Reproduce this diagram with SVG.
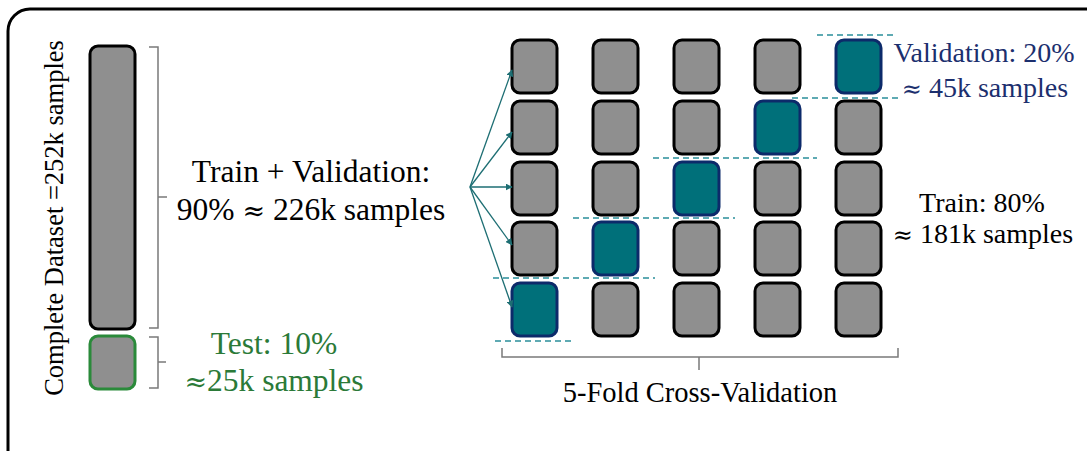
<svg xmlns="http://www.w3.org/2000/svg" width="1087" height="451" viewBox="0 0 1087 451">
  <style>
    .lbl { font-family: "Liberation Serif", "DejaVu Serif", serif; }
    .sym { font-family: "DejaVu Serif", "Liberation Serif", serif; }
    .blk { fill: #8f8f8f; stroke: #000; stroke-width: 3; }
    .val { fill: #00707a; stroke: #0c2a6a; stroke-width: 3; }
    .tst { fill: #8f8f8f; stroke: #2a8a3a; stroke-width: 3; }
    .brace { fill: none; stroke: #7a7a7a; stroke-width: 1.5; }
    .split { fill: none; stroke: #2a8f9a; stroke-width: 1.3; stroke-dasharray: 6 4; }
    .arrow { fill: none; stroke: #1d6e73; stroke-width: 1.3; marker-end: url(#head); }
  </style>
  <defs>
    <marker id="head" viewBox="0 0 10 10" refX="9" refY="5" markerWidth="7" markerHeight="7" orient="auto" markerUnits="userSpaceOnUse">
      <path d="M0,0 L10,5 L0,10 z" fill="#1d6e73"/>
    </marker>
  </defs>
  <rect width="1087" height="451" fill="#fff"/>
  <!-- outer frame -->
  <rect x="8" y="9" width="1110" height="470" rx="22" fill="none" stroke="#000" stroke-width="3"/>

  <!-- complete dataset -->
  <g id="dataset-label">
    <text class="lbl" transform="translate(63,218) rotate(-90)" text-anchor="middle" font-size="26.5" fill="#000">Complete Dataset =252k samples</text>
  </g>
  <g id="trainval-bar">
    <rect class="blk" x="90" y="46" width="45" height="283" rx="8"/>
  </g>
  <g id="test-bar">
    <rect class="tst" x="90" y="336" width="45" height="53" rx="8"/>
  </g>
  <g id="trainval-label">
    <text class="lbl" x="311" y="182" text-anchor="middle" font-size="31.5" fill="#000">Train + Validation:</text>
    <text class="lbl" x="311" y="220" text-anchor="middle" font-size="31.5" fill="#000">90% <tspan class="sym" font-size="27">≈</tspan> 226k samples</text>
  </g>
  <g id="test-label">
    <text class="lbl" x="274" y="354" text-anchor="middle" font-size="31.5" fill="#2b7a38">Test: 10%</text>
    <text class="lbl" x="274" y="391" text-anchor="middle" font-size="31.5" fill="#2b7a38"><tspan class="sym" font-size="27">≈</tspan>25k samples</text>
  </g>

  <!-- braces -->
  <g id="braces">
    <path class="brace" d="M149,47 H158 V328 H149 M158,197 H167"/>
    <path class="brace" d="M149,337 H158 V388 H149 M158,362 H166"/>
    <path class="brace" d="M502,348 V357 H898 V348 M699,357 V370"/>
  </g>

  <!-- fold grid: rows are folds, teal marks the validation part -->
  <g id="fold-1">
    <rect class="blk" x="512" y="40" width="45" height="53" rx="8"/>
    <rect class="blk" x="593" y="40" width="45" height="53" rx="8"/>
    <rect class="blk" x="674" y="40" width="45" height="53" rx="8"/>
    <rect class="blk" x="755" y="40" width="45" height="53" rx="8"/>
    <rect class="val" x="836" y="40" width="45" height="53" rx="8"/>
  </g>
  <g id="fold-2">
    <rect class="blk" x="512" y="101" width="45" height="53" rx="8"/>
    <rect class="blk" x="593" y="101" width="45" height="53" rx="8"/>
    <rect class="blk" x="674" y="101" width="45" height="53" rx="8"/>
    <rect class="val" x="755" y="101" width="45" height="53" rx="8"/>
    <rect class="blk" x="836" y="101" width="45" height="53" rx="8"/>
  </g>
  <g id="fold-3">
    <rect class="blk" x="512" y="162" width="45" height="53" rx="8"/>
    <rect class="blk" x="593" y="162" width="45" height="53" rx="8"/>
    <rect class="val" x="674" y="162" width="45" height="53" rx="8"/>
    <rect class="blk" x="755" y="162" width="45" height="53" rx="8"/>
    <rect class="blk" x="836" y="162" width="45" height="53" rx="8"/>
  </g>
  <g id="fold-4">
    <rect class="blk" x="512" y="222" width="45" height="53" rx="8"/>
    <rect class="val" x="593" y="222" width="45" height="53" rx="8"/>
    <rect class="blk" x="674" y="222" width="45" height="53" rx="8"/>
    <rect class="blk" x="755" y="222" width="45" height="53" rx="8"/>
    <rect class="blk" x="836" y="222" width="45" height="53" rx="8"/>
  </g>
  <g id="fold-5">
    <rect class="val" x="512" y="283" width="45" height="53" rx="8"/>
    <rect class="blk" x="593" y="283" width="45" height="53" rx="8"/>
    <rect class="blk" x="674" y="283" width="45" height="53" rx="8"/>
    <rect class="blk" x="755" y="283" width="45" height="53" rx="8"/>
    <rect class="blk" x="836" y="283" width="45" height="53" rx="8"/>
  </g>

  <!-- dashed split markers -->
  <g id="split-lines">
    <path class="split" d="M817,35 H897"/>
    <path class="split" d="M792,98 H898"/>
    <path class="split" d="M653,158 H817"/>
    <path class="split" d="M573,218 H735"/>
    <path class="split" d="M493,278 H655"/>
    <path class="split" d="M495,341 H575"/>
  </g>

  <!-- connectors -->
  <g id="connectors">
    <path class="arrow" d="M470,187 L512,70"/>
    <path class="arrow" d="M470,187 L512,132"/>
    <path class="arrow" d="M470,187 L512,187"/>
    <path class="arrow" d="M470,187 L512,245"/>
    <path class="arrow" d="M470,187 L512,307"/>
  </g>

  <g id="validation-label">
    <text class="lbl" x="984" y="62" text-anchor="middle" font-size="28" fill="#1c2f6e">Validation: 20%</text>
    <text class="lbl" x="985" y="97" text-anchor="middle" font-size="28" fill="#1c2f6e"><tspan class="sym" font-size="24">≈</tspan> 45k samples</text>
  </g>
  <g id="train-label">
    <text class="lbl" x="982" y="212" text-anchor="middle" font-size="28" fill="#000">Train: 80%</text>
    <text class="lbl" x="983" y="243" text-anchor="middle" font-size="28" fill="#000"><tspan class="sym" font-size="24">≈</tspan> 181k samples</text>
  </g>
  <g id="cv-label">
    <text class="lbl" x="700" y="402" text-anchor="middle" font-size="28.5" fill="#000">5-Fold Cross-Validation</text>
  </g>
</svg>
